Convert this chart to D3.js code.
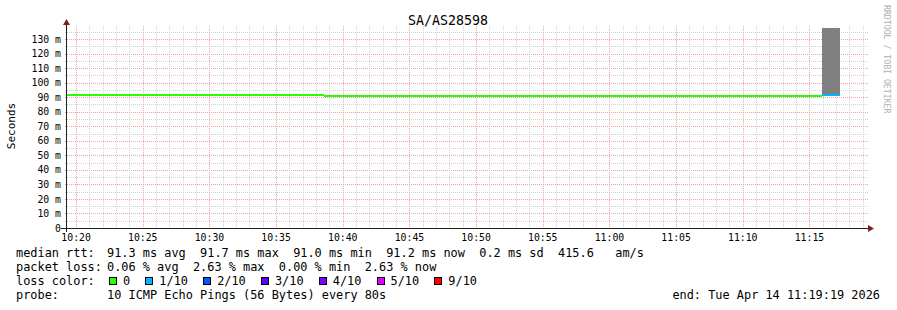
<!DOCTYPE html>
<html>
<head>
<meta charset="utf-8">
<script src="https://cdn.jsdelivr.net/npm/d3@7/dist/d3.min.js"></script>
<style>
    html, body { margin: 0; padding: 0; background: #fff; }
    svg { display: block; }
    text { font-family: "DejaVu Sans Mono", monospace; white-space: pre; fill: #000; }
</style>
</head>
<body>
<div id="chart"></div>
<script>
// chart data
const title = "SA/AS28598";
const startTime = "10:19:19";
const endTime = "11:19:19";
const yTicks = [0, 10, 20, 30, 40, 50, 60, 70, 80, 90, 100, 110, 120, 130];

// median rtt per step (ms) and lost pings out of 10
const segStart = ["10:19:19", "10:30:38", "10:37:19", "10:38:35", "11:15:57"];
const segEnd   = ["10:30:38", "10:37:19", "10:38:35", "11:15:57", "11:17:17"];
const medianMs = [91.4, 91.2, 91.7, 91.0, 91.2];
const lossCount = [0, 0, 0, 0, 1];
// smoke (spread of the pings) per step, ms
const smokeLowMs  = [91.2, 91.1, 91.6, 90.9, 91.0];
const smokeHighMs = [91.6, 91.3, 91.8, 91.1, 180];

const lossLabels = ["0", "1/10", "2/10", "3/10", "4/10", "5/10", "9/10"];
const lossColors = ["#26ff00", "#00b8ff", "#0059ff", "#5e00ff", "#7e00ff", "#dd00ff", "#ff0000"];

const rttStats = ["91.3 ms avg", "91.7 ms max", "91.0 ms min", "91.2 ms now", "0.2 ms sd", "415.6   am/s"];
const lossStats = ["0.06 % avg", "2.63 % max", "0.00 % min", "2.63 % now"];
const probeText = "10 ICMP Echo Pings (56 Bytes) every 80s";
const endText = "end: Tue Apr 14 11:19:19 2026";

const width = 897;
const height = 310;
const plotL = 67, plotR = 867, plotT = 28, plotB = 228;
const yMax = 137.6;

function parseT(s) {
    const p = s.split(':').map(Number);
    return new Date(2026, 3, 14, p[0], p[1], p[2]);
}
function lossColor(n) {
    return lossColors[lossLabels.indexOf(n === 0 ? "0" : n + "/10")];
}
const px = v => Math.round(v) + 0.5;

const x = d3.scaleTime()
    .domain([parseT(startTime), parseT(endTime)])
    .range([plotL, plotR]);

const y = d3.scaleLinear()
    .domain([0, yMax])
    .range([plotB, plotT]);

const svg = d3.select('#chart')
    .append('svg')
    .attr('width', width)
    .attr('height', height);

svg.append('rect').attr('width', width).attr('height', height).attr('fill', '#fff');

svg.append('clipPath').attr('id', 'plot')
    .append('rect')
    .attr('x', plotL).attr('y', plotT)
    .attr('width', plotR - plotL).attr('height', plotB - plotT);

// grid
const minutes = d3.timeMinute.range(x.domain()[0], x.domain()[1]);
const grid = svg.append('g').attr('stroke-width', 1).attr('stroke-dasharray', '1,1');

grid.selectAll('line.vmin')
    .data(minutes.filter(d => d.getMinutes() % 5 !== 0))
    .enter().append('line')
    .attr('x1', d => px(x(d))).attr('x2', d => px(x(d)))
    .attr('y1', 26).attr('y2', plotB)
    .attr('stroke', '#d2d2d2');

const hMinor = d3.range(5, yMax, 5).filter(v => v % 10 !== 0);
grid.selectAll('line.hmin')
    .data(hMinor)
    .enter().append('line')
    .attr('x1', plotL - 2).attr('x2', plotR + 1)
    .attr('y1', d => px(y(d))).attr('y2', d => px(y(d)))
    .attr('stroke', '#d2d2d2');

grid.selectAll('line.vmaj')
    .data(minutes.filter(d => d.getMinutes() % 5 === 0))
    .enter().append('line')
    .attr('x1', d => px(x(d))).attr('x2', d => px(x(d)))
    .attr('y1', 26).attr('y2', plotB)
    .attr('stroke', '#eba3a3');

grid.selectAll('line.hmaj')
    .data(yTicks.filter(v => v > 0))
    .enter().append('line')
    .attr('x1', plotL - 2).attr('x2', plotR + 1)
    .attr('y1', d => px(y(d))).attr('y2', d => px(y(d)))
    .attr('stroke', '#eba3a3');

// smoke and median
const steps = segStart.map((s, i) => ({
    t0: parseT(s), t1: parseT(segEnd[i]),
    med: medianMs[i], loss: lossCount[i],
    lo: smokeLowMs[i], hi: smokeHighMs[i]
}));

const plot = svg.append('g').attr('clip-path', 'url(#plot)');

plot.selectAll('rect.smoke')
    .data(steps)
    .enter().append('rect')
    .attr('x', d => x(d.t0))
    .attr('width', d => x(d.t1) - x(d.t0))
    .attr('y', d => y(d.hi))
    .attr('height', d => y(d.lo) - y(d.hi))
    .attr('fill', '#808080')
    .attr('shape-rendering', 'crispEdges');

const line = d3.line()
    .x(p => x(p[0]))
    .y(p => y(p[1]));

plot.selectAll('path.median')
    .data(steps)
    .enter().append('path')
    .attr('d', d => line([[d.t0, d.med], [d.t1, d.med]]))
    .attr('stroke', d => lossColor(d.loss))
    .attr('stroke-width', 2)
    .attr('fill', 'none')
    .attr('shape-rendering', 'crispEdges');

// axes
svg.append('line')
    .attr('x1', plotL - 0.5).attr('x2', plotL - 0.5)
    .attr('y1', 24).attr('y2', plotB + 4)
    .attr('stroke', '#1f1f1f');
svg.append('line')
    .attr('x1', plotL - 6).attr('x2', plotR + 1)
    .attr('y1', plotB + 0.5).attr('y2', plotB + 0.5)
    .attr('stroke', '#1f1f1f');

svg.append('path')
    .attr('d', `M${plotL - 4},25 L${plotL + 3},25 L${plotL - 0.5},19 Z`)
    .attr('fill', '#801f1f');
svg.append('path')
    .attr('d', `M${plotR + 1},${plotB - 3} L${plotR + 1},${plotB + 4} L${plotR + 7},${plotB + 0.5} Z`)
    .attr('fill', '#801f1f');

// tick labels
svg.selectAll('text.ylab')
    .data(yTicks)
    .enter().append('text')
    .attr('x', 61)
    .attr('y', d => y(d) + 3.6)
    .attr('text-anchor', 'end')
    .attr('font-size', '9.8px')
    .text(d => d === 0 ? '0' : d + ' m');

svg.selectAll('text.xlab')
    .data(x.ticks(d3.timeMinute.every(5)))
    .enter().append('text')
    .attr('x', d => x(d))
    .attr('y', 241)
    .attr('text-anchor', 'middle')
    .attr('font-size', '9.8px')
    .text(d3.timeFormat('%H:%M'));

// titles
svg.append('text')
    .attr('x', 448).attr('y', 25)
    .attr('text-anchor', 'middle')
    .attr('font-size', '13.3px')
    .text(title);

svg.append('text')
    .attr('transform', 'translate(15,126) rotate(-90)')
    .attr('text-anchor', 'middle')
    .attr('font-size', '11px')
    .text('Seconds');

svg.append('text')
    .attr('transform', 'translate(884,5) rotate(90)')
    .attr('font-size', '8.2px')
    .style('fill', '#b0b0b0')
    .text('RRDTOOL / TOBI OETIKER');

// legend
const lg = svg.append('g').attr('font-size', '11.9px');
const rows = [257, 271, 285, 299];

lg.append('text').attr('x', 16).attr('y', rows[0]).text('median rtt:');
lg.append('text').attr('x', 107).attr('y', rows[0]).text(rttStats.join('  '));

lg.append('text').attr('x', 16).attr('y', rows[1]).text('packet loss:');
lg.append('text').attr('x', 107).attr('y', rows[1]).text(lossStats.join('  '));

lg.append('text').attr('x', 16).attr('y', rows[2]).text('loss color:');
const charW = 7.15;
let cursor = 123;
const items = lossLabels.map((l, i) => {
    const it = { label: l, color: lossColors[i], tx: cursor };
    cursor += l.length * charW + 29.2;
    return it;
});
lg.selectAll('rect.loss')
    .data(items)
    .enter().append('rect')
    .attr('x', d => Math.round(d.tx - 14) + 0.5)
    .attr('y', rows[2] - 7.5)
    .attr('width', 7).attr('height', 7)
    .attr('fill', d => d.color)
    .attr('stroke', '#000');
lg.selectAll('text.loss')
    .data(items)
    .enter().append('text')
    .attr('x', d => d.tx)
    .attr('y', rows[2])
    .text(d => d.label);

lg.append('text').attr('x', 16).attr('y', rows[3]).text('probe:');
lg.append('text').attr('x', 107).attr('y', rows[3]).text(probeText);
lg.append('text').attr('x', 880).attr('y', rows[3]).attr('text-anchor', 'end').text(endText);
</script>
</body>
</html>
